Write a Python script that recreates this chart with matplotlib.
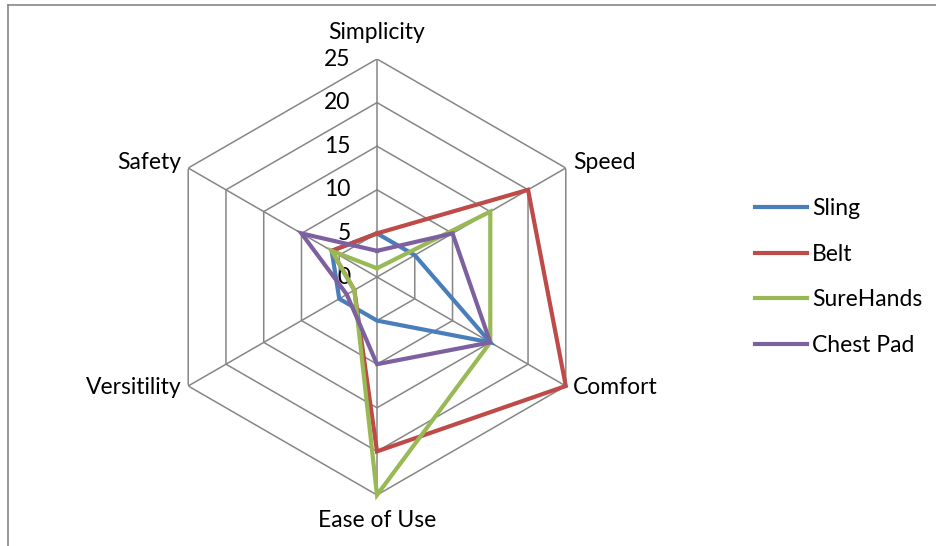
import numpy as np
import matplotlib

matplotlib.use('Agg')
import matplotlib.pyplot as plt
from matplotlib.lines import Line2D

categories = ['Simplicity', 'Speed', 'Comfort', 'Ease of Use', 'Versitility', 'Safety']
series_names = ['Sling', 'Belt', 'SureHands', 'Chest Pad']
sling = [5, 5, 15, 5, 5, 6]
belt = [5, 20, 25, 20, 3, 6]
surehands = [1, 15, 15, 25, 3, 6]
chest_pad = [3, 10, 15, 10, 4, 10]
rings = [5, 10, 15, 20, 25]
ring_labels = ['0', '5', '10', '15', '20', '25']

colors = ['#4A7EBB', '#BE4B48', '#98B954', '#7D60A0']
GRID = '#868686'
FS = 16.5

plt.rcParams['font.family'] = ['Lato', 'DejaVu Sans']

W, H = 936, 546
cx, cy, R = 377, 277, 218

fig = plt.figure(figsize=(W / 100, H / 100), dpi=100)
ax = fig.add_axes([(cx - R) / W, (H - cy - R) / H, 2 * R / W, 2 * R / H], projection='polar')
ax.set_theta_offset(np.pi / 2)
ax.set_theta_direction(-1)
ax.set_ylim(0, 25)
ax.grid(False)
ax.set_xticks([])
ax.set_yticks([])
ax.spines['polar'].set_visible(False)
ax.patch.set_alpha(0)

n = len(categories)
angles = np.arange(n) * 2 * np.pi / n
closed = np.append(angles, angles[0])

# hexagon grid and spokes
for r in rings:
    ax.plot(closed, [r] * (n + 1), color=GRID, lw=1.1, zorder=1)
for a in angles:
    ax.plot([a, a], [0, 25], color=GRID, lw=1.1, zorder=1)

# value labels along the top spoke
for i, lab in enumerate(ring_labels):
    ax.annotate(lab, xy=(0, i * 5), xytext=(-19, 0), textcoords='offset points',
                ha='right', va='center', fontsize=FS)

# category labels
offsets = {
    'Simplicity': ((0, 19), 'center', 'center'),
    'Speed': ((5, 4), 'left', 'center'),
    'Comfort': ((5, -1), 'left', 'center'),
    'Ease of Use': ((0, -18.5), 'center', 'center'),
    'Versitility': ((-5, -1), 'right', 'center'),
    'Safety': ((-5, 4), 'right', 'center'),
}
for a, cat in zip(angles, categories):
    off, ha, va = offsets[cat]
    ax.annotate(cat, xy=(a, 25), xytext=off, textcoords='offset points',
                ha=ha, va=va, fontsize=FS)

handles = []
for vals, name, c in zip([sling, belt, surehands, chest_pad], series_names, colors):
    h, = ax.plot(closed, vals + vals[:1], color=c, lw=3, label=name, zorder=3,
                 solid_joinstyle='miter', clip_on=False)
    handles.append(h)

fig.legend(handles=handles, loc='upper left', bbox_to_anchor=(755 / W, 1 - 198 / H),
           frameon=False, fontsize=FS, handlelength=2.27, handletextpad=0.22,
           labelspacing=1.07, borderpad=0, borderaxespad=0)

# chart area border (top and left edges visible)
fig.add_artist(Line2D([8 / W, 8 / W], [0, 1 - 5 / H], color=GRID, lw=1.2))
fig.add_artist(Line2D([8 / W, 1], [1 - 5 / H, 1 - 5 / H], color=GRID, lw=1.2))

fig.savefig('out.png', dpi=100)
